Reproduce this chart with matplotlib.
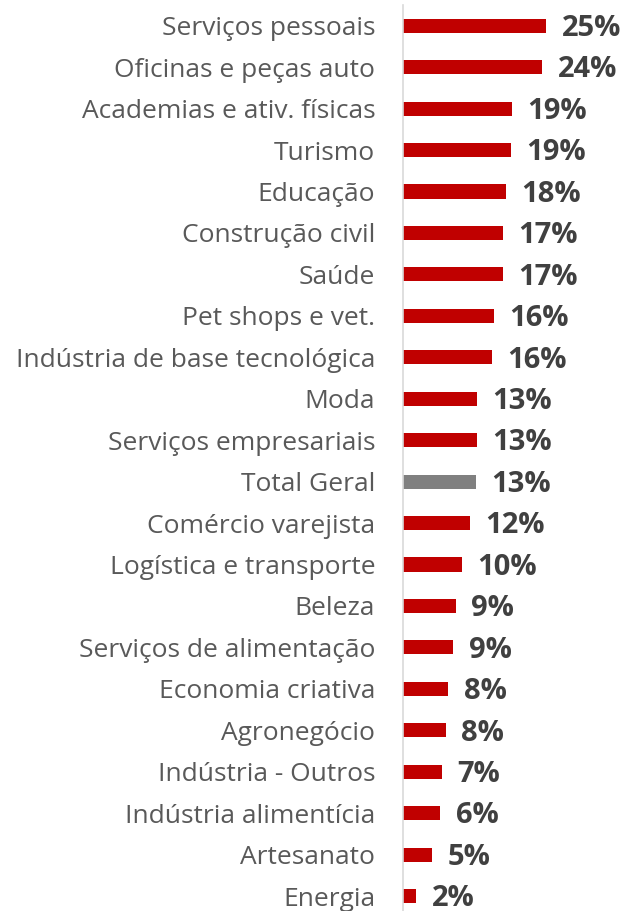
import matplotlib
matplotlib.use('Agg')
import matplotlib.pyplot as plt
import numpy as np

categorias = ['Serviços pessoais', 'Oficinas e peças auto', 'Academias e ativ. físicas',
              'Turismo', 'Educação', 'Construção civil', 'Saúde', 'Pet shops e vet.',
              'Indústria de base tecnológica', 'Moda', 'Serviços empresariais', 'Total Geral',
              'Comércio varejista', 'Logística e transporte', 'Beleza',
              'Serviços de alimentação', 'Economia criativa', 'Agronegócio',
              'Indústria - Outros', 'Indústria alimentícia', 'Artesanato', 'Energia']
valores = [25.0, 24.3, 19.0, 18.8, 17.9, 17.4, 17.4, 15.9, 15.6, 12.9, 12.9, 12.7,
           11.7, 10.3, 9.2, 8.8, 7.9, 7.5, 6.8, 6.5, 5.1, 2.3]
destaque = 'Total Geral'

plt.rcParams['font.family'] = ['Open Sans', 'DejaVu Sans']

fig = plt.figure(figsize=(6.26, 9.11), dpi=100)
ax = fig.add_axes([403 / 626, -0.0063, 1 - 403 / 626, 1.0008])

y = np.arange(len(categorias))
cores = ['#808080' if c == destaque else '#c00000' for c in categorias]
ax.barh(y, valores, height=0.34, color=cores)

for yi, v in zip(y, valores):
    ax.annotate(f'{v:.0f}%', (v, yi), xytext=(11, -2), textcoords='offset points',
                ha='left', va='center', fontsize=21, fontweight='bold', color='#404040')

ax.set_ylim(len(categorias) - 0.5, -0.5)
ax.set_xlim(0, 38.9)
ax.set_yticks(y)
ax.set_yticklabels(categorias, fontsize=19, color='#595959')
ax.tick_params(axis='y', length=0, pad=20)
ax.set_xticks([])
for s in ['top', 'right', 'bottom']:
    ax.spines[s].set_visible(False)
ax.spines['left'].set_color('#d9d9d9')
ax.spines['left'].set_linewidth(1.2)

fig.savefig('out.png', dpi=100)
